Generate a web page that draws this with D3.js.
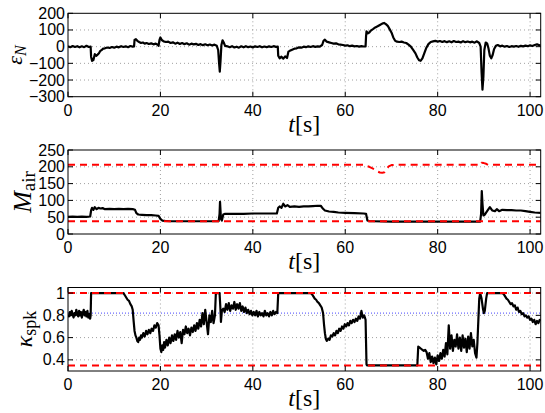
<!DOCTYPE html>
<html><head><meta charset="utf-8">
<script src="https://cdn.jsdelivr.net/npm/d3@7"></script>
<style>
html,body{margin:0;padding:0;background:#fff;}
svg{display:block;}
.tick-label{font-family:"Liberation Sans",Arial,sans-serif;font-size:16px;fill:#000;}
.serif{font-family:"Liberation Serif","Times New Roman",serif;fill:#000;}
</style>
</head><body>
<svg id="chart" width="545" height="413"></svg>
<script>
// ---------- DATA ----------
const xTicks = [0, 20, 40, 60, 80, 100];
const xDomain = [0, 102.3];

// Panel 1: epsilon_N
const eT = [0,0.5,1,1.5,2,2.5,3,3.5,4,4.5,4.9,5.0,5.2,5.5,5.8,6.1,6.4,6.7,7.0,7.3,7.6,8,8.5,9,9.5,10,10.5,11,11.5,12,12.5,13,13.5,14,14.3,14.4,14.7,15,15.4,15.8,16.2,16.6,17,17.5,18,18.5,19,19.4,19.6,19.8,20.0,20.3,20.7,21.2,21.7,22.2,22.7,23.2,23.7,24.2,24.7,25.2,25.7,26.2,26.7,27.2,27.7,28.2,28.7,29.2,29.7,30.2,30.7,31.2,31.7,32.2,32.5,32.7,32.85,33.0,33.2,33.45,33.7,34,34.5,35,35.5,36,36.5,37,37.5,38,38.5,39,39.5,40,40.5,41,41.5,42,42.5,43,43.5,44,44.5,45,45.4,45.5,45.8,46.2,46.6,47,47.4,47.7,48,48.5,49,49.5,50,50.5,51,51.5,52,52.5,53,53.5,54,54.5,55,55.3,55.6,56,56.5,57,57.5,58,58.5,59,59.5,60,60.5,61,61.5,62,62.5,63,63.5,64,64.4,64.5,64.6,64.9,65.2,65.6,66,66.5,67,67.5,68,68.4,68.8,69.2,69.6,70,70.4,70.8,71.2,71.7,72.2,72.7,73.2,73.7,74.2,74.7,75.2,75.6,76.0,76.3,76.7,77.1,77.5,78,78.5,79,79.5,80,80.5,81,81.5,82,82.5,83,83.5,84,84.5,85,85.5,86,86.5,87,87.5,88,88.5,89,89.3,89.5,89.7,89.9,90.1,90.4,90.7,91.0,91.3,91.6,91.9,92.2,92.6,93,93.5,94,94.5,95,95.5,96,96.5,97,97.5,98,98.5,99,99.5,100,100.5,101,101.5,102,102.3];
const eV = [2,-3,4,-2,3,-4,2,-3,5,-2,0,-60,-85,-80,-45,-55,-48,-40,-25,-20,-12,-10,-5,-8,-2,-6,0,-4,3,-2,2,-3,4,0,2,40,45,35,28,22,25,18,22,16,20,14,18,12,5,40,55,40,32,28,30,22,26,18,24,16,22,15,20,12,18,14,17,10,15,9,14,8,13,7,12,5,-20,-100,-150,-90,10,38,25,5,2,-3,3,-5,0,-6,2,-4,3,-3,1,-5,2,-2,3,-4,1,-3,2,-2,3,-1,0,-55,-70,-60,-72,-58,-68,-30,-25,-18,-12,-10,-4,-6,0,-3,2,-2,3,-1,2,0,10,35,42,30,26,22,18,20,14,12,10,6,8,3,6,2,4,0,3,1,2,60,92,80,85,98,105,115,122,130,138,142,135,125,105,85,55,35,30,28,30,25,22,12,0,-20,-40,-65,-82,-85,-70,-40,-10,15,28,32,35,30,34,28,33,27,32,26,34,28,30,25,33,27,31,26,30,24,32,22,0,-150,-258,-180,-20,25,20,-10,-55,-70,-50,-15,5,10,2,6,0,4,-2,3,0,4,-1,5,2,6,3,8,4,10,14,8,10];
const eTicks = [-300, -200, -100, 0, 100, 200];

// Panel 2: M_air
const mT = [0,1,2,3,4,4.8,5.0,5.2,5.5,5.8,6.2,6.6,7,7.5,8,9,10,11,12,13,14,14.5,14.8,15.2,16,17,18,19,19.6,20,20.4,21,22,24,26,28,30,32,32.6,32.8,32.9,33.1,33.3,33.6,34,36,38,40,42,44,45.2,45.5,45.8,46.2,46.6,47,47.5,48,49,50,51,52,53,54,54.7,55.2,55.6,56.5,57.5,58.5,60,62,64,64.5,64.8,65.2,66,70,75,80,85,89.2,89.4,89.55,89.7,89.9,90.2,90.7,91.3,91.8,92.4,92.8,93.3,94,95,96,97,98,99,100,101,102.3];
const mV = [51,52,51,52,51,52,70,78,72,80,74,78,76,77,74,75,74,75,74,75,74,72,62,58,57,56,56,55,54,45,40,39,38,38,38,38,38,38,38,60,96,45,40,58,60,60,60,61,61,61,61,78,82,78,90,82,86,81,82,81,82,82,83,84,84,75,70,67,66,64,63,62,61,60,40,38,38,37,37,37,37,37,60,128,90,55,58,68,80,70,68,74,68,72,71,71,70,70,68,66,64,63];
const mUpT = [0,64.3,64.6,65.2,65.8,66.4,67,67.5,68,68.5,68.9,69.4,70,72,89.3,89.5,90,90.5,90.9,102.3];
const mUpV = [206,206,203,200,196,192,186,183,182,184,193,201,205,206,206,212,211,209,206,206];
const mLow = 38;
const mTicks = [0, 50, 100, 150, 200, 250];

// Panel 3: kappa_spk
const kT = [0,0.2,0.4,0.6,0.8,1.0,1.2,1.4,1.6,1.8,2.0,2.2,2.4,2.6,2.8,3.0,3.2,3.4,3.6,3.8,4.0,4.2,4.4,4.6,4.8,4.9,5.0,12,12.3,12.6,12.9,13.2,13.5,13.8,14.0,14.2,14.4,14.6,14.8,15.0,15.2,15.4,15.6,15.8,16.0,16.3,16.6,16.9,17.2,17.5,17.8,18.1,18.4,18.7,19.0,19.3,19.6,19.8,20.0,20.2,20.4,20.6,20.8,21.0,21.3,21.6,21.9,22.2,22.5,22.8,23.1,23.4,23.7,24.0,24.3,24.6,24.9,25.2,25.5,25.8,26.1,26.4,26.7,27.0,27.3,27.6,27.9,28.2,28.5,28.8,29.1,29.4,29.7,30.0,30.3,30.6,30.9,31.2,31.5,31.8,32.0,32.8,33.0,33.1,33.3,33.6,33.9,34.2,34.5,34.8,35.1,35.4,35.7,36.0,36.3,36.6,36.9,37.2,37.5,37.8,38.1,38.4,38.7,39.0,39.3,39.6,39.9,40.2,40.5,40.8,41.1,41.4,41.7,42.0,42.3,42.6,42.9,43.2,43.5,43.8,44.1,44.4,44.7,45.0,45.3,45.5,52.5,52.8,53.1,53.4,53.7,54.0,54.3,54.6,54.9,55.2,55.4,55.6,55.8,56.0,56.3,56.6,56.9,57.2,57.5,57.8,58.1,58.4,58.7,59.0,59.3,59.6,59.9,60.2,60.5,60.8,61.1,61.4,61.7,62.0,62.3,62.6,62.9,63.2,63.5,63.8,64.1,64.4,64.6,64.7,75.6,75.8,76.1,76.4,76.7,77.0,77.3,77.6,77.9,78.2,78.5,78.8,79.1,79.4,79.7,80.0,80.3,80.6,80.9,81.2,81.5,81.8,82.1,82.4,82.7,83.0,83.3,83.6,83.9,84.2,84.5,84.8,85.1,85.4,85.7,86.0,86.3,86.6,86.9,87.2,87.5,87.8,88.1,88.4,88.6,88.8,89.0,89.2,89.5,89.8,90.0,90.2,90.5,90.7,94.0,94.3,94.6,94.9,95.2,95.5,95.8,96.1,96.4,96.7,97.0,97.3,97.6,97.9,98.2,98.5,98.8,99.1,99.4,99.7,100.0,100.3,100.6,100.9,101.2,101.5,101.8,102.1,102.3];
const kV = [0.80,0.79,0.83,0.80,0.84,0.81,0.78,0.82,0.80,0.85,0.81,0.79,0.84,0.80,0.83,0.78,0.82,0.85,0.80,0.83,0.79,0.84,0.78,0.81,0.77,0.80,1.0,1.0,0.98,0.96,0.94,0.93,0.90,0.88,0.85,0.75,0.66,0.62,0.60,0.57,0.56,0.60,0.58,0.62,0.60,0.64,0.61,0.66,0.63,0.67,0.64,0.68,0.66,0.71,0.69,0.73,0.71,0.62,0.50,0.47,0.53,0.49,0.56,0.51,0.58,0.53,0.60,0.55,0.62,0.57,0.63,0.58,0.66,0.60,0.65,0.55,0.67,0.63,0.70,0.64,0.68,0.62,0.69,0.65,0.71,0.66,0.73,0.68,0.76,0.70,0.82,0.72,0.85,0.74,0.63,0.80,0.74,0.84,0.73,0.80,1.0,1.0,0.85,0.74,0.84,0.86,0.83,0.90,0.85,0.91,0.84,0.89,0.86,0.92,0.85,0.90,0.86,0.91,0.84,0.88,0.83,0.87,0.82,0.85,0.81,0.84,0.80,0.83,0.80,0.84,0.79,0.83,0.80,0.82,0.79,0.84,0.80,0.82,0.79,0.83,0.80,0.84,0.81,0.83,0.82,1.0,1.0,0.99,0.97,0.95,0.94,0.92,0.91,0.89,0.87,0.82,0.72,0.64,0.59,0.57,0.59,0.58,0.62,0.61,0.64,0.62,0.66,0.64,0.68,0.66,0.70,0.68,0.72,0.70,0.73,0.71,0.75,0.73,0.76,0.74,0.77,0.75,0.79,0.77,0.84,0.78,0.80,0.76,0.36,0.35,0.35,0.52,0.51,0.50,0.49,0.48,0.49,0.47,0.41,0.46,0.38,0.43,0.37,0.42,0.36,0.44,0.39,0.46,0.41,0.49,0.43,0.55,0.45,0.71,0.50,0.62,0.48,0.58,0.52,0.63,0.50,0.60,0.48,0.62,0.51,0.59,0.47,0.61,0.50,0.64,0.52,0.58,0.46,0.42,0.55,0.75,0.95,1.0,0.95,0.86,0.82,0.84,0.95,1.0,1.0,0.99,0.97,0.95,0.94,0.92,0.90,0.91,0.88,0.89,0.85,0.87,0.83,0.84,0.81,0.82,0.79,0.80,0.78,0.79,0.76,0.77,0.74,0.76,0.72,0.75,0.73,0.76,0.75];
const kUp = 1.0, kLow = 0.35, kRef = 0.82;
const kTicks = [0.4, 0.6, 0.8, 1];

// ---------- LAYOUT ----------
const L = 68, R = 540.7;
const panels = [
  {top: 13.3, bottom: 96.7, domain: [-300, 200], ticks: eTicks, fmt: d3.format("d")},
  {top: 150, bottom: 234, domain: [0, 250], ticks: mTicks, fmt: d3.format("d")},
  {top: 287.5, bottom: 371, domain: [0.3, 1.05], ticks: kTicks, fmt: d => d === 1 ? "1" : d3.format(".1f")(d)}
];

const svg = d3.select("#chart");
const x = d3.scaleLinear().domain(xDomain).range([L, R]);
const tickLen = 5;

panels.forEach((p, i) => {
  const y = d3.scaleLinear().domain(p.domain).range([p.bottom, p.top]);
  p.y = y;
  const g = svg.append("g");
  g.append("clipPath").attr("id", "clip" + i).append("rect")
    .attr("x", L).attr("y", p.top).attr("width", R - L).attr("height", p.bottom - p.top);
  xTicks.forEach(t => {
    if (t > xDomain[0] && t < xDomain[1])
      g.append("line").attr("x1", x(t)).attr("x2", x(t)).attr("y1", p.top).attr("y2", p.bottom)
        .attr("stroke", "#888").attr("stroke-width", 0.8).attr("stroke-dasharray", "1,3");
  });
  p.ticks.forEach(t => {
    if (t > p.domain[0] && t < p.domain[1])
      g.append("line").attr("x1", L).attr("x2", R).attr("y1", y(t)).attr("y2", y(t))
        .attr("stroke", "#888").attr("stroke-width", 0.8).attr("stroke-dasharray", "1,3");
  });
  p.g = g;
  p.ticks.forEach(t => {
    g.append("text").attr("class", "tick-label").attr("x", L - 3).attr("y", y(t))
      .attr("text-anchor", "end").attr("dominant-baseline", "central").text(p.fmt(t).replace("-", "\u2212"));
  });
  xTicks.forEach(t => {
    g.append("text").attr("class", "tick-label").attr("x", x(t)).attr("y", p.bottom + 19)
      .attr("text-anchor", "middle").text(t);
  });
  const xl = g.append("text").attr("class", "serif").attr("x", (L + R) / 2).attr("y", p.bottom + 35)
    .attr("text-anchor", "middle").attr("font-size", 24);
  xl.append("tspan").attr("font-style", "italic").text("t");
  xl.append("tspan").text("[s]");
});

const line = d3.line().x(d => x(d[0]));

function drawSeries(p, i, ts, vs, color, width, dash) {
  const data = ts.map((t, j) => [t, vs[j]]);
  p.g.append("path").datum(data)
    .attr("clip-path", "url(#clip" + i + ")")
    .attr("fill", "none").attr("stroke", color).attr("stroke-width", width)
    .attr("stroke-linejoin", "round")
    .attr("stroke-dasharray", dash || null)
    .attr("d", line.y(d => p.y(d[1])));
}

drawSeries(panels[0], 0, eT, eV, "#000", 2.2);
drawSeries(panels[1], 1, mT, mV, "#000", 2.2);
drawSeries(panels[1], 1, mUpT, mUpV, "#f00", 2, "7,5");
drawSeries(panels[1], 1, xDomain, [mLow, mLow], "#f00", 2, "7,5");
drawSeries(panels[2], 2, xDomain, [kRef, kRef], "#6b6bff", 1.2, "1,2");
drawSeries(panels[2], 2, kT, kV, "#000", 2.2);
drawSeries(panels[2], 2, xDomain, [kUp, kUp], "#f00", 2, "7,5");
drawSeries(panels[2], 2, xDomain, [kLow, kLow], "#f00", 2, "7,5");

panels.forEach(p => {
  const g = p.g, y = p.y;
  g.append("rect").attr("x", L).attr("y", p.top).attr("width", R - L).attr("height", p.bottom - p.top)
    .attr("fill", "none").attr("stroke", "#000").attr("stroke-width", 1);
  xTicks.forEach(t => {
    g.append("line").attr("x1", x(t)).attr("x2", x(t)).attr("y1", p.bottom).attr("y2", p.bottom - tickLen).attr("stroke", "#000");
    g.append("line").attr("x1", x(t)).attr("x2", x(t)).attr("y1", p.top).attr("y2", p.top + tickLen).attr("stroke", "#000");
  });
  p.ticks.forEach(t => {
    g.append("line").attr("x1", L).attr("x2", L + tickLen).attr("y1", y(t)).attr("y2", y(t)).attr("stroke", "#000");
    g.append("line").attr("x1", R).attr("x2", R - tickLen).attr("y1", y(t)).attr("y2", y(t)).attr("stroke", "#000");
  });
});

function ylab(px, py, main, sub, mainItalic, subItalic, mainSize, subSize, shift) {
  const t = svg.append("text").attr("class", "serif")
    .attr("transform", `translate(${px},${py}) rotate(-90)`)
    .attr("text-anchor", "middle");
  t.append("tspan").attr("font-size", mainSize).attr("font-style", mainItalic ? "italic" : "normal").text(main);
  t.append("tspan").attr("font-size", subSize).attr("font-style", subItalic ? "italic" : "normal")
    .attr("dy", shift).text(sub);
}
ylab(22, 55, "\u03b5", "N", true, true, 22, 16, 4);
ylab(31, 192, "M", "air", true, false, 26, 19, 4);
ylab(32, 329, "\u03ba", "spk", true, false, 24, 18, 4);
</script>
</body></html>
